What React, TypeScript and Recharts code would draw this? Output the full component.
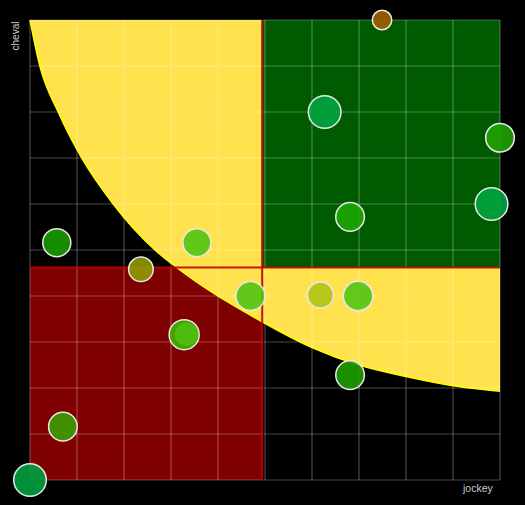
import {
  ComposedChart,
  Area,
  Scatter,
  XAxis,
  YAxis,
  ReferenceArea,
  ReferenceLine,
} from 'recharts';

// frontier curve (x = jockey, y = cheval)
const curveX = [0, 0.21, 0.6, 1.1, 1.77, 2.66, 3.12, 4.94, 6, 7, 8, 9, 10];
const curveY = [10, 9, 8, 7, 6, 5, 4.62, 3.44, 2.88, 2.5, 2.25, 2.05, 1.93];

// bubbles
const jockey = [7.49, 6.27, 10, 9.82, 6.81, 0.57, 3.55, 2.36, 4.69, 6.18, 6.98, 3.28, 3.33, 6.81, 0.7, 0];
const cheval = [10, 8.0, 7.44, 6.0, 5.72, 5.16, 5.16, 4.58, 4.0, 4.02, 4.0, 3.16, 3.17, 2.28, 1.16, 0];
const radius = [9.7, 16.3, 14.3, 16.3, 14.3, 14, 14, 12.3, 14.5, 13, 14.7, 15, 11.7, 14.3, 14.3, 16.3];
const colors = [
  '#a06000', '#00a540', '#1fa300', '#00a540', '#1ea600', '#1a9a00', '#52c414', '#8f9a00',
  '#52c414', '#aec414', '#52c414', '#40b400', '#4cc010', '#1e9e00', '#3c9c00', '#00a040',
];
const ringed = [true, true, true, true, true, true, true, true, true, true, true, true, false, true, true, true];

const splitX = 4.94;
const splitY = 4.62;
const ticks = [0, 1, 2, 3, 4, 5, 6, 7, 8, 9, 10];

const curveData = curveX.map((x, i) => ({ x, y: curveY[i] }));
const points = jockey.map((x, i) => ({
  x,
  y: cheval[i],
  r: radius[i],
  color: colors[i],
  ring: ringed[i],
}));

const Bubble = (p: any) => (
  <circle
    cx={p.cx}
    cy={p.cy}
    r={p.payload.r}
    fill={p.payload.color}
    fillOpacity={0.9}
    stroke={p.payload.ring ? '#e8e8e8' : 'none'}
    strokeWidth={1.5}
  />
);

const gridColor = '#ffffff';

export default function App() {
  return (
    <div
      style={{
        position: 'relative',
        width: 525,
        height: 505,
        background: '#000',
        fontFamily: '"Liberation Sans", Arial, sans-serif',
      }}
    >
      <style>{'body{margin:0}'}</style>
      <ComposedChart
        width={525}
        height={505}
        data={curveData}
        margin={{ top: 20, right: 25, left: 30, bottom: 25 }}
      >
        <XAxis
          dataKey="x"
          type="number"
          domain={[0, 10]}
          ticks={ticks}
          interval={0}
          tick={false}
          tickLine={false}
          axisLine={false}
          height={0}
        />
        <YAxis
          dataKey="y"
          type="number"
          domain={[0, 10]}
          ticks={ticks}
          interval={0}
          tick={false}
          tickLine={false}
          axisLine={false}
          width={0}
        />
        <ReferenceArea x1={0} x2={splitX} y1={0} y2={splitY} fill="#7f0000" fillOpacity={1} stroke="none" />
        <Area
          type="monotone"
          dataKey="y"
          baseValue={10}
          fill="#ffe24d"
          fillOpacity={1}
          stroke="#ffff00"
          strokeWidth={1.5}
          dot={false}
          activeDot={false}
          isAnimationActive={false}
        />
        <ReferenceArea x1={splitX} x2={10} y1={splitY} y2={10} fill="#005a00" fillOpacity={1} stroke="none" />
        {ticks.map((t) => (
          <ReferenceLine key={'gx' + t} x={t} stroke={gridColor} strokeOpacity={0.28} strokeWidth={1.2} />
        ))}
        {ticks.map((t) => (
          <ReferenceLine key={'gy' + t} y={t} stroke={gridColor} strokeOpacity={0.28} strokeWidth={1.2} />
        ))}
        <ReferenceLine x={splitX} stroke="#c00000" strokeWidth={2} strokeOpacity={0.9} />
        <ReferenceLine y={splitY} stroke="#c00000" strokeWidth={2} strokeOpacity={0.9} />
        <Scatter data={points} shape={Bubble} isAnimationActive={false} />
      </ComposedChart>
      <div
        style={{
          position: 'absolute',
          left: 15,
          top: 36,
          transform: 'translate(-50%, -50%) rotate(-90deg)',
          color: '#cccccc',
          fontSize: 10,
          whiteSpace: 'nowrap',
        }}
      >
        cheval
      </div>
      <div
        style={{
          position: 'absolute',
          left: 463,
          top: 483,
          color: '#cccccc',
          fontSize: 10.5,
          lineHeight: 1,
          whiteSpace: 'nowrap',
        }}
      >
        jockey
      </div>
    </div>
  );
}
